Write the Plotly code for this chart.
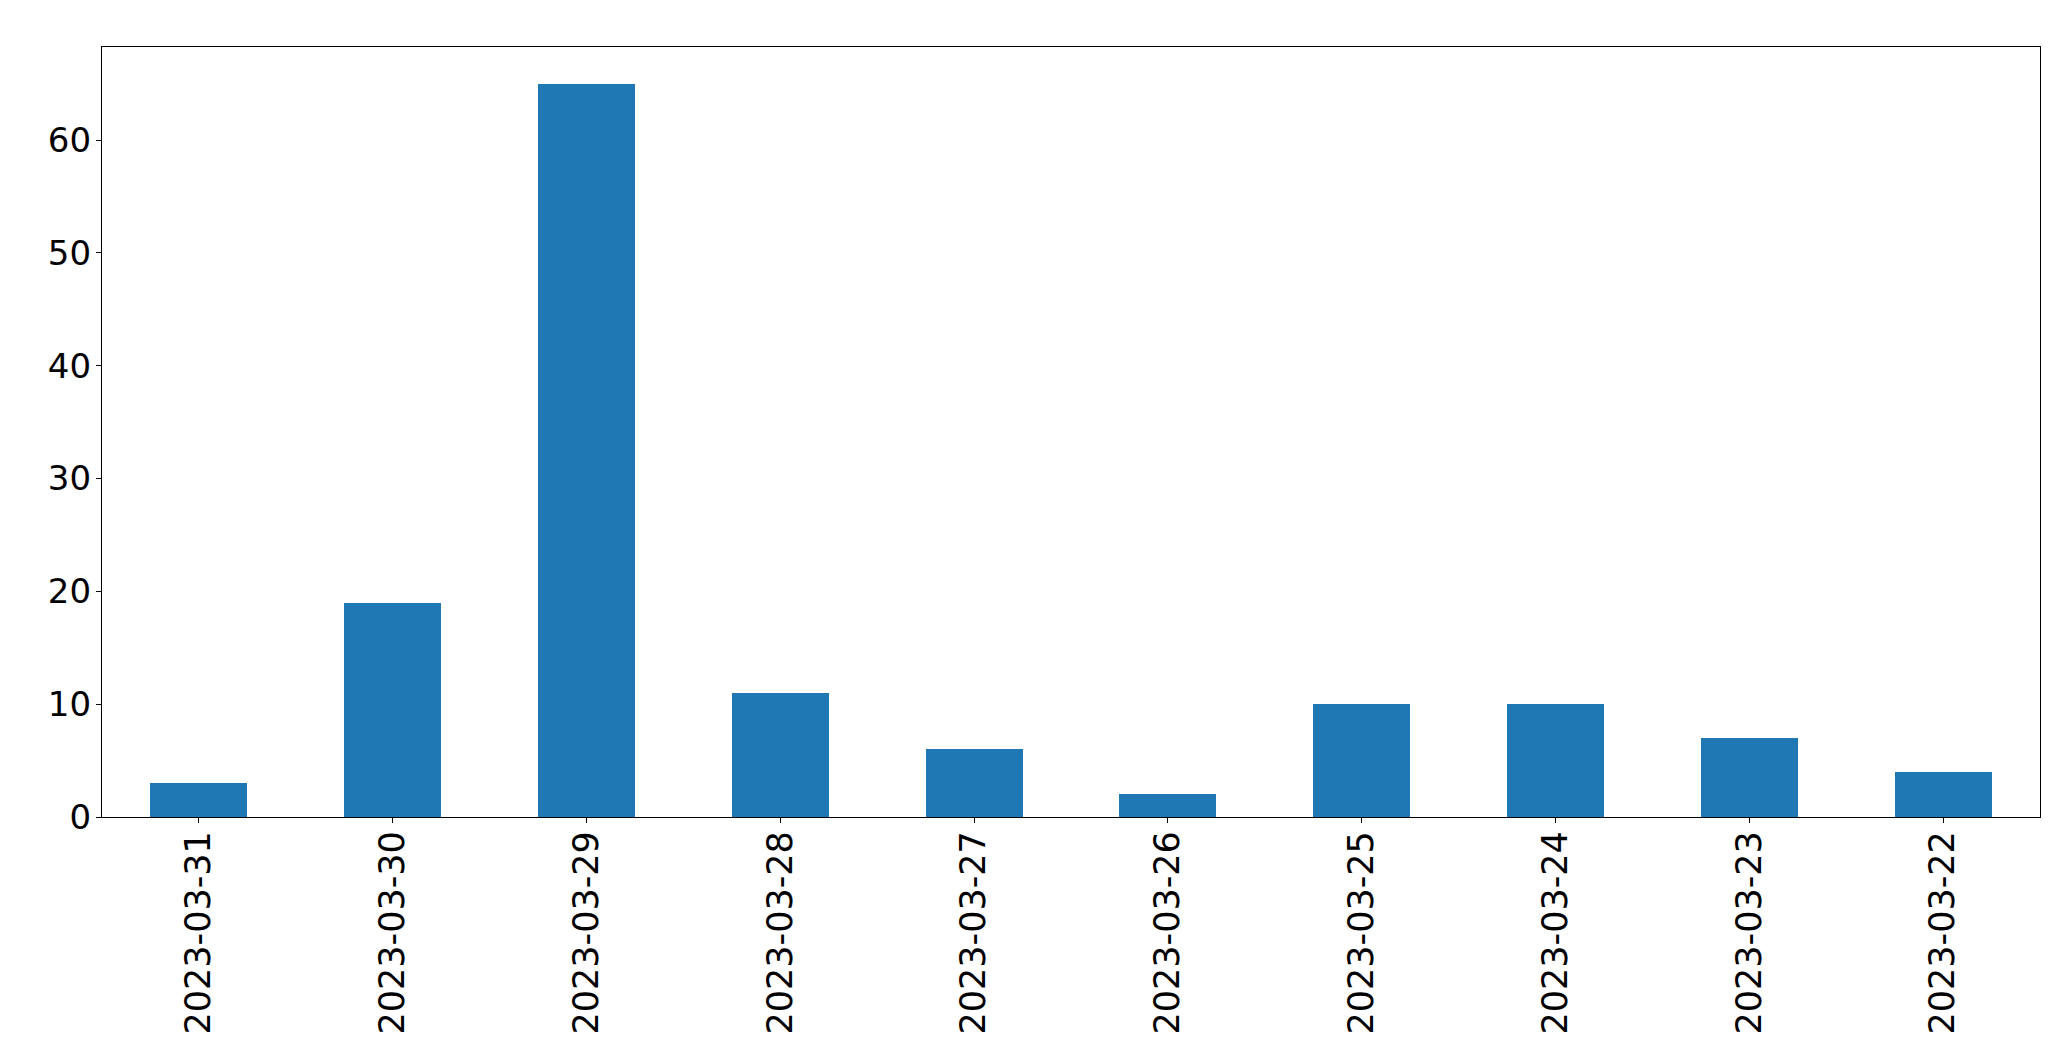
import plotly.graph_objects as go

dates = ["2023-03-31", "2023-03-30", "2023-03-29", "2023-03-28", "2023-03-27",
         "2023-03-26", "2023-03-25", "2023-03-24", "2023-03-23", "2023-03-22"]
counts = [3, 19, 65, 11, 6, 2, 10, 10, 7, 4]
y_ticks = [0, 10, 20, 30, 40, 50, 60]

fig = go.Figure(go.Bar(x=dates, y=counts, width=0.5, marker_color="#1f77b4",
                       marker_line_width=0))

fig.update_layout(
    width=2071, height=1061,
    margin=dict(l=94, r=39, t=39, b=252),
    plot_bgcolor="white", paper_bgcolor="white",
    font=dict(family="DejaVu Sans", size=35, color="black"),
    showlegend=False,
    bargap=0,
)
fig.update_xaxes(type="category", range=[-0.5, len(dates) - 0.5],
                 tickangle=-90, showline=True, mirror=True, linecolor="black",
                 linewidth=1.3, ticks="outside", ticklen=5, tickwidth=1.3,
                 tickcolor="black", showgrid=False, zeroline=False,
                 tickfont=dict(size=35), ticklabelstandoff=-6)
fig.update_yaxes(range=[0, 68.25], tickvals=y_ticks, showline=True, mirror=True,
                 linecolor="black", linewidth=1.3, ticks="outside", ticklen=5,
                 tickwidth=1.3, tickcolor="black", showgrid=False, zeroline=False,
                 tickfont=dict(size=34), ticklabelstandoff=-2)

fig.write_html("out.html")
